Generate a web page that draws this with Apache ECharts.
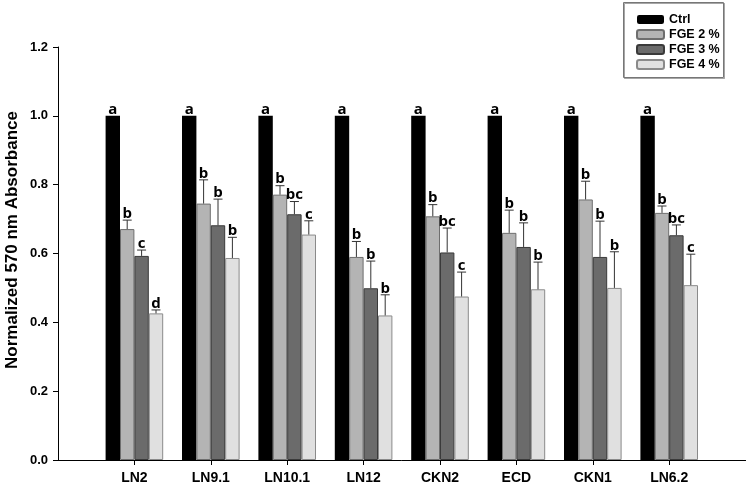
<!DOCTYPE html>
<html>
<head>
<meta charset="utf-8">
<script src="https://cdn.jsdelivr.net/npm/echarts@6/dist/echarts.min.js"></script>
<style>html,body{margin:0;padding:0;background:#fff}#c{width:750px;height:486px}</style>
</head>
<body>
<div id="c"></div>
<script>
const categories = ['LN2', 'LN9.1', 'LN10.1', 'LN12', 'CKN2', 'ECD', 'CKN1', 'LN6.2'];
const seriesNames = ['Ctrl', 'FGE 2 %', 'FGE 3 %', 'FGE 4 %'];
const ctrl = [1, 1, 1, 1, 1, 1, 1, 1];
const ctrlErr = [0, 0, 0, 0, 0, 0, 0, 0];
const fge2 = [0.671, 0.745, 0.771, 0.590, 0.708, 0.660, 0.757, 0.718];
const fge2Err = [0.026, 0.069, 0.026, 0.045, 0.034, 0.066, 0.053, 0.020];
const fge3 = [0.593, 0.682, 0.714, 0.499, 0.603, 0.619, 0.590, 0.653];
const fge3Err = [0.017, 0.076, 0.037, 0.079, 0.071, 0.070, 0.104, 0.030];
const fge4 = [0.426, 0.587, 0.655, 0.420, 0.475, 0.496, 0.500, 0.508];
const fge4Err = [0.010, 0.060, 0.040, 0.060, 0.071, 0.079, 0.105, 0.090];
const ctrlLetters = ['a', 'a', 'a', 'a', 'a', 'a', 'a', 'a'];
const fge2Letters = ['b', 'b', 'b', 'b', 'b', 'b', 'b', 'b'];
const fge3Letters = ['c', 'b', 'bc', 'b', 'bc', 'b', 'b', 'bc'];
const fge4Letters = ['d', 'b', 'c', 'b', 'c', 'b', 'b', 'c'];
const yTicks = [0, 0.2, 0.4, 0.6, 0.8, 1.0, 1.2];

const values = [ctrl, fge2, fge3, fge4];
const errs = [ctrlErr, fge2Err, fge3Err, fge4Err];
const letters = [ctrlLetters, fge2Letters, fge3Letters, fge4Letters];
const fills = ['#000000', '#b4b4b4', '#6b6b6b', '#e0e0e0'];
const borders = ['#000000', '#6e6e6e', '#3a3a3a', '#8a8a8a'];
const BW = 14.4;

const axisCats = [''].concat(categories, ['']);
const pad = arr => ['-'].concat(arr, ['-']);

const series = values.map((v, s) => ({
  name: seriesNames[s],
  type: 'bar',
  data: pad(v),
  barWidth: BW,
  barGap: '0%',
  itemStyle: { color: fills[s], borderColor: borders[s], borderWidth: s === 0 ? 0 : 1 }
}));

const errData = [];
values.forEach((v, s) => v.forEach((val, i) => errData.push([i + 1, val, errs[s][i], s, letters[s][i]])));

series.push({
  type: 'custom',
  name: 'err',
  data: errData,
  z: 10,
  renderItem: function (params, api) {
    const ci = api.value(0), val = api.value(1), e = api.value(2), s = api.value(3);
    const letter = errData[params.dataIndex][4];
    const off = (s - 1.5) * BW;
    const top = api.coord([ci, val]);
    const cap = api.coord([ci, val + e]);
    const x = top[0] + off;
    const children = [];
    if (e > 0) {
      children.push({ type: 'line', shape: { x1: x, y1: top[1], x2: x, y2: cap[1] }, style: { stroke: '#333', lineWidth: 1 } });
      children.push({ type: 'line', shape: { x1: x - 4.5, y1: cap[1], x2: x + 4.5, y2: cap[1] }, style: { stroke: '#333', lineWidth: 1 } });
    }
    children.push({ type: 'text', style: { text: letter, x: x, y: cap[1] + 1, align: 'center', verticalAlign: 'bottom', fontFamily: 'Open Sans', fontWeight: 'bold', fontSize: 15, fill: '#000' } });
    return { type: 'group', children: children };
  },
  silent: true
});

const chart = echarts.init(document.getElementById('c'), null, { renderer: 'canvas' });
chart.setOption({
  animation: false,
  backgroundColor: '#fff',
  grid: { left: 58, top: 47, width: 687.6, height: 413, containLabel: false },
  legend: {
    data: seriesNames,
    orient: 'vertical',
    left: 631,
    top: 8,
    itemWidth: 27,
    itemHeight: 9,
    itemGap: 2,
    textStyle: { fontFamily: 'Liberation Sans, Arial', fontWeight: 'bold', fontSize: 12.5, color: '#000' }
  },
  graphic: [
    { type: 'rect', left: 623, top: 2, shape: { width: 100, height: 75 }, style: { fill: 'transparent', stroke: '#777', lineWidth: 1, shadowColor: 'rgba(0,0,0,0.35)', shadowOffsetX: 1, shadowOffsetY: 1 }, z: -1 },
    { type: 'text', x: 12, y: 240, rotation: Math.PI / 2, style: { text: 'Normalized 570 nm Absorbance', align: 'center', verticalAlign: 'middle', fontFamily: 'Liberation Sans, Arial', fontWeight: 'bold', fontSize: 17, fill: '#000' } }
  ],
  xAxis: {
    type: 'category',
    data: axisCats,
    boundaryGap: false,
    axisLine: { lineStyle: { color: '#000', width: 1 } },
    axisTick: { show: true, length: 5, lineStyle: { color: '#000' }, interval: (idx) => idx > 0 && idx < axisCats.length - 1 },
    axisLabel: { interval: 0, margin: 11, fontFamily: 'Liberation Sans, Arial', fontWeight: 'bold', fontSize: 14, color: '#000' },
    splitLine: { show: false }
  },
  yAxis: {
    type: 'value',
    min: yTicks[0],
    max: yTicks[yTicks.length - 1],
    interval: 0.2,
    axisLine: { show: true, lineStyle: { color: '#000', width: 1 } },
    axisTick: { show: true, length: 5, lineStyle: { color: '#000' } },
    axisLabel: { margin: 10, formatter: v => v.toFixed(1), fontFamily: 'Liberation Sans, Arial', fontWeight: 'bold', fontSize: 13, color: '#000' },
    splitLine: { show: false }
  },
  series: series
});
</script>
</body>
</html>
